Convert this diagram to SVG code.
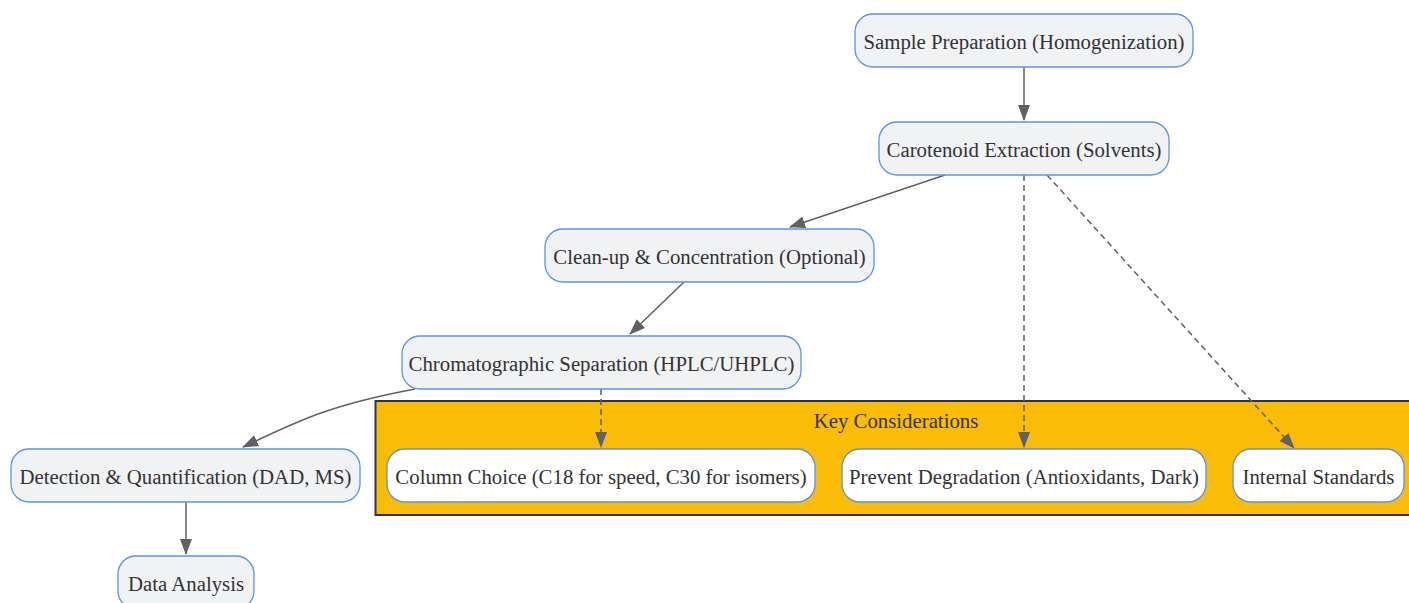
<svg xmlns="http://www.w3.org/2000/svg" width="1409" height="603" viewBox="0 0 1409 603">
<style>
.n rect{fill:#f1f2f4;stroke:#5a93ec;stroke-width:1.3}
.w rect{fill:#ffffff;stroke:#5a93ec;stroke-width:1.3}
text{font-family:"Liberation Serif","Times New Roman",serif;font-size:20.8px;fill:#333;text-anchor:middle;dominant-baseline:central}
.e{fill:none;stroke:#5f6166;stroke-width:1.5}
.d{stroke-dasharray:6 4}
</style>
<defs>
<marker id="ah" viewBox="0 0 16 12" refX="15" refY="6" markerWidth="16" markerHeight="12" markerUnits="userSpaceOnUse" orient="auto">
<path d="M0,0 L16,6 L0,12 z" fill="#5f6166"/>
</marker>
</defs>
<rect x="0" y="0" width="1409" height="603" fill="#fff"/>
<g id="cluster">
<rect x="375.5" y="401" width="1040" height="114" fill="#f9bc07" stroke="#333" stroke-width="2"/>
<text x="896" y="420">Key Considerations</text>
</g>
<g id="edges">
<path class="e" d="M1024,67 L1024,120" marker-end="url(#ah)"/>
<path class="e" d="M945,175 L790,227" marker-end="url(#ah)"/>
<path class="e d" d="M1024,175 L1024,447" marker-end="url(#ah)"/>
<path class="e d" d="M1047,175 L1294,448" marker-end="url(#ah)"/>
<path class="e" d="M684,282 L630,334" marker-end="url(#ah)"/>
<path class="e" d="M415,389 C330,405 300,420 243,447" marker-end="url(#ah)"/>
<path class="e d" d="M601,389 L601,447" marker-end="url(#ah)"/>
<path class="e" d="M186,502 L186,554" marker-end="url(#ah)"/>
</g>
<g id="sample" class="n"><rect x="855" y="14" width="338" height="53" rx="18"/><text x="1024" y="41.5">Sample Preparation (Homogenization)</text></g>
<g id="extraction" class="n"><rect x="879" y="122" width="290" height="53" rx="18"/><text x="1024" y="149.5">Carotenoid Extraction (Solvents)</text></g>
<g id="cleanup" class="n"><rect x="545" y="229" width="329" height="53" rx="18"/><text x="709.5" y="256.5">Clean-up &amp; Concentration (Optional)</text></g>
<g id="chromatography" class="n"><rect x="402" y="336" width="399" height="53" rx="18"/><text x="601.5" y="363.5">Chromatographic Separation (HPLC/UHPLC)</text></g>
<g id="detection" class="n"><rect x="11" y="449" width="349" height="53" rx="18"/><text x="185.5" y="476.5">Detection &amp; Quantification (DAD, MS)</text></g>
<g id="analysis" class="n"><rect x="118" y="556" width="136" height="53" rx="18"/><text x="186" y="583.5">Data Analysis</text></g>
<g id="column" class="w"><rect x="387" y="449" width="428" height="53" rx="18"/><text x="601" y="476.5">Column Choice (C18 for speed, C30 for isomers)</text></g>
<g id="degradation" class="w"><rect x="842" y="449" width="364" height="53" rx="18"/><text x="1024" y="476.5">Prevent Degradation (Antioxidants, Dark)</text></g>
<g id="standards" class="w"><rect x="1233" y="449" width="171" height="53" rx="18"/><text x="1318.5" y="476.5">Internal Standards</text></g>
</svg>
